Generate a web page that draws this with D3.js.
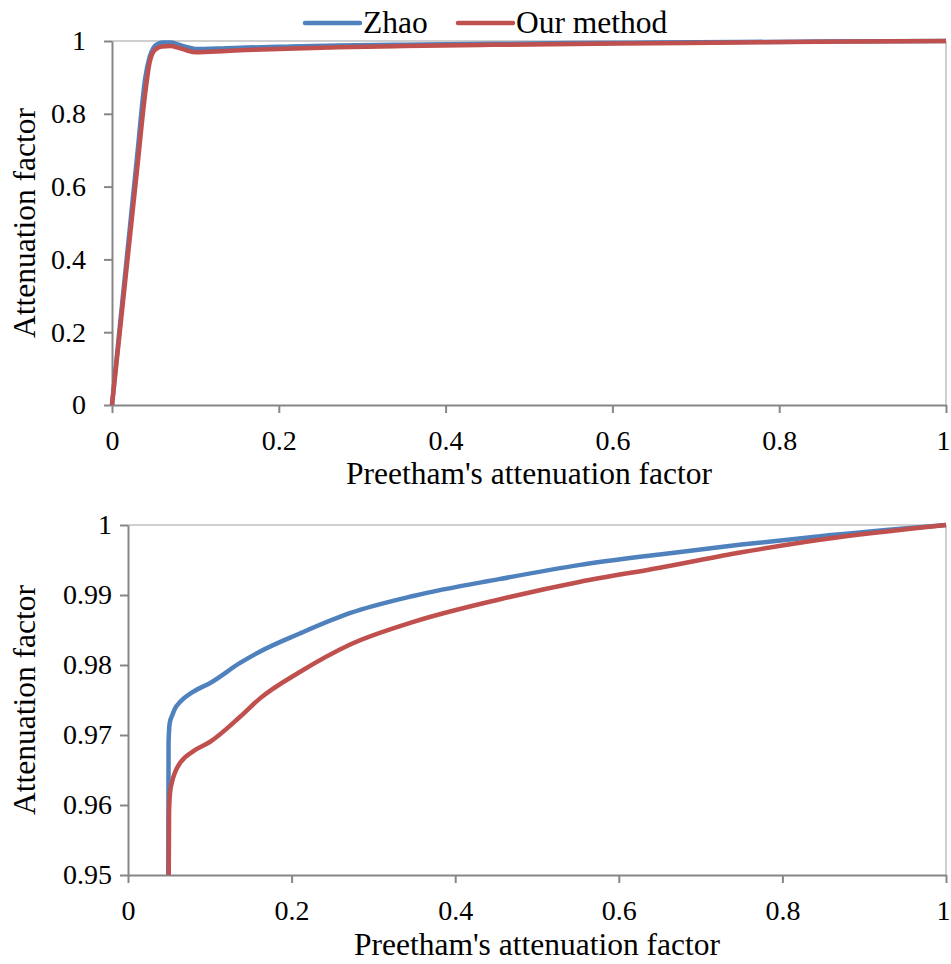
<!DOCTYPE html>
<html>
<head>
<meta charset="utf-8">
<script src="https://cdn.jsdelivr.net/npm/d3@7"></script>
<style>
  html, body { margin: 0; padding: 0; background: #fff; }
  svg { display: block; }
</style>
</head>
<body>
<svg id="chart" width="951" height="964"></svg>
<script>
// ---------- DATA ----------
const seriesNames = ["Zhao", "Our method"];
const seriesColors = ["#4F81BD", "#C0504D"];

// Top chart (full range)
const topX     = [0, 0.01, 0.02, 0.03, 0.04, 0.045, 0.05, 0.055, 0.06, 0.07, 0.08, 0.09, 0.1, 0.137, 0.161, 0.21, 0.271, 0.35, 0.455, 0.553, 0.65, 0.75, 0.846, 1];
const topZhao  = [0, 0.23, 0.455, 0.68, 0.9, 0.955, 0.982, 0.992, 0.996, 0.996, 0.99, 0.983, 0.978, 0.9803, 0.9819, 0.9845, 0.9874, 0.9899, 0.9923, 0.9943, 0.9958, 0.9972, 0.9984, 1];
const topOurs  = [0, 0.215, 0.43, 0.645, 0.86, 0.94, 0.972, 0.981, 0.985, 0.986, 0.981, 0.974, 0.969, 0.9726, 0.9752, 0.979, 0.9829, 0.9862, 0.9894, 0.9919, 0.9939, 0.9961, 0.9979, 1];
const topXTicks = [0, 0.2, 0.4, 0.6, 0.8, 1];
const topYTicks = [0, 0.2, 0.4, 0.6, 0.8, 1];

// Bottom chart (zoomed range)
const botZhaoX = [0.0492, 0.0496, 0.051, 0.054, 0.0575, 0.0636, 0.08, 0.1, 0.137, 0.161, 0.21, 0.271, 0.35, 0.455, 0.553, 0.65, 0.75, 0.846, 1];
const botZhao  = [0.95, 0.969, 0.9717, 0.9728, 0.9738, 0.9747, 0.9762, 0.9774, 0.9803, 0.9819, 0.9845, 0.9874, 0.9899, 0.9923, 0.9943, 0.9958, 0.9972, 0.9984, 1];
const botOursX = [0.0498, 0.0502, 0.0515, 0.054, 0.058, 0.0636, 0.08, 0.1, 0.137, 0.161, 0.21, 0.271, 0.35, 0.455, 0.553, 0.65, 0.75, 0.846, 1];
const botOurs  = [0.95, 0.959, 0.9618, 0.9634, 0.9648, 0.966, 0.9677, 0.969, 0.9726, 0.9752, 0.979, 0.9829, 0.9862, 0.9894, 0.9919, 0.9939, 0.9961, 0.9979, 1];
const botXTicks = [0, 0.2, 0.4, 0.6, 0.8, 1];
const botYTicks = [0.95, 0.96, 0.97, 0.98, 0.99, 1];

const xTitle = "Preetham's attenuation factor";
const yTitle = "Attenuation factor";

// ---------- DRAW ----------
const FONT = "Liberation Serif, Times New Roman, serif";
const svg = d3.select("#chart").attr("font-family", FONT);
const axisColor = "#868686";
const borderColor = "#BFBFBF";
const tickFont = 28;
const titleFont = 31.5;

function zip(xs, ys) { return xs.map((x, i) => [x, ys[i]]); }

function drawPanel(opts) {
  const { left, right, top, bottom, xDomain, yDomain, xTicks, yTicks, series, yFmt, yTitleX, xTitleY, yLabelPad, clipId } = opts;
  const x = d3.scaleLinear().domain(xDomain).range([left, right]);
  const y = d3.scaleLinear().domain(yDomain).range([bottom, top]);
  const g = svg.append("g");

  // plot area border (top & right)
  g.append("line").attr("x1", left).attr("x2", right).attr("y1", top).attr("y2", top)
    .attr("stroke", borderColor).attr("stroke-width", 1.5);
  g.append("line").attr("x1", right).attr("x2", right).attr("y1", top).attr("y2", bottom)
    .attr("stroke", borderColor).attr("stroke-width", 1.5);

  // axes
  const xAxis = d3.axisBottom(x).tickValues(xTicks).tickSize(8).tickSizeOuter(0).tickPadding(17)
    .tickFormat(d3.format("~g"));
  const yAxis = d3.axisLeft(y).tickValues(yTicks).tickSize(8).tickSizeOuter(0).tickPadding(yLabelPad)
    .tickFormat(yFmt);
  const gx = g.append("g").attr("transform", `translate(0,${bottom})`).call(xAxis);
  const gy = g.append("g").attr("transform", `translate(${left},0)`).call(yAxis);
  [gx, gy].forEach(a => {
    a.attr("font-family", FONT).attr("font-size", tickFont);
    a.select(".domain").attr("stroke", axisColor).attr("stroke-width", 2);
    a.selectAll(".tick line").attr("stroke", axisColor).attr("stroke-width", 2);
    a.selectAll(".tick text").attr("font-family", FONT).attr("font-size", tickFont).attr("fill", "#000");
  });
  // keep the last x label inside the page edge
  gx.selectAll(".tick text").filter(d => d === 1).attr("dx", "-3");

  // clip
  svg.append("clipPath").attr("id", clipId).append("rect")
    .attr("x", left - 5).attr("y", top - 6).attr("width", right - left + 10).attr("height", bottom - top + 6);

  const line = d3.line().x(d => x(d[0])).y(d => y(d[1])).curve(d3.curveMonotoneX);
  series.forEach((s, i) => {
    g.append("path").datum(s).attr("d", line)
      .attr("fill", "none").attr("stroke", seriesColors[i]).attr("stroke-width", 4.5)
      .attr("stroke-linejoin", "round").attr("stroke-linecap", "butt")
      .attr("clip-path", `url(#${clipId})`);
  });

  // titles
  g.append("text").attr("x", (left + right) / 2).attr("y", xTitleY).attr("text-anchor", "middle")
    .attr("font-family", FONT).attr("font-size", titleFont).attr("fill", "#000").text(xTitle);
  g.append("text").attr("transform", `translate(${yTitleX},${(top + bottom) / 2}) rotate(-90)`)
    .attr("text-anchor", "middle").attr("font-family", FONT).attr("font-size", titleFont)
    .attr("fill", "#000").text(yTitle);
}

drawPanel({
  left: 112, right: 946, top: 41, bottom: 405,
  xDomain: [0, 1], yDomain: [0, 1], xTicks: topXTicks, yTicks: topYTicks,
  series: [zip(topX, topZhao), zip(topX, topOurs)],
  yFmt: d3.format("~g"), yTitleX: 35, xTitleY: 484, yLabelPad: 18, clipId: "clipTop"
});

drawPanel({
  left: 128, right: 946, top: 525, bottom: 875,
  xDomain: [0, 1], yDomain: [0.95, 1], xTicks: botXTicks, yTicks: botYTicks,
  series: [zip(botZhaoX, botZhao), zip(botOursX, botOurs)],
  yFmt: d => (d === 1 ? "1" : d3.format(".2f")(d)), yTitleX: 35, xTitleY: 955, yLabelPad: 8, clipId: "clipBot"
});

// legend
const legendItems = [
  { x1: 305, x2: 360, tx: 363 },
  { x1: 458, x2: 513, tx: 516 }
];
const lg = svg.append("g");
legendItems.forEach((it, i) => {
  lg.append("line").attr("x1", it.x1).attr("x2", it.x2).attr("y1", 23).attr("y2", 23)
    .attr("stroke", seriesColors[i]).attr("stroke-width", 4.5).attr("stroke-linecap", "round");
  lg.append("text").attr("x", it.tx).attr("y", 33).attr("font-family", FONT)
    .attr("font-size", titleFont).attr("fill", "#000").text(seriesNames[i]);
});
</script>
</body>
</html>
